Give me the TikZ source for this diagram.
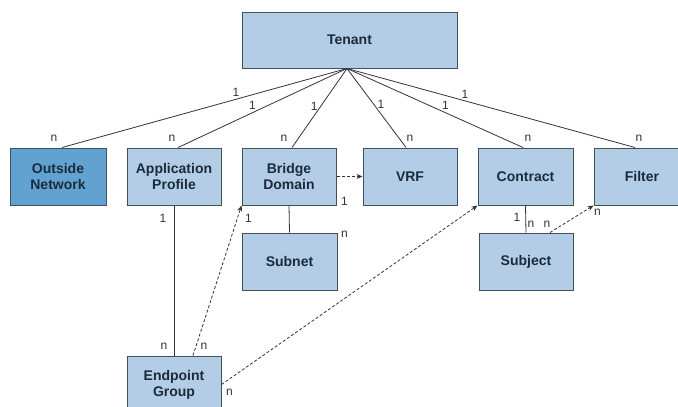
\documentclass[tikz,border=0pt]{standalone}
\usepackage{fontspec}
\setmainfont{Liberation Sans}
\usetikzlibrary{arrows.meta}
\definecolor{boxfill}{HTML}{B2CDE5}
\definecolor{boxdark}{HTML}{62A2D0}
\definecolor{boxline}{HTML}{404F5E}
\definecolor{ink}{HTML}{1C2B3C}
\definecolor{wire}{HTML}{333333}
\begin{document}
\begin{tikzpicture}[x=1pt,y=-1pt,
    obj/.style={draw=boxline,line width=1pt,fill=boxfill,minimum width=94pt,minimum height=57pt,
      inner sep=0pt,align=center,text=ink,font=\fontsize{14}{16}\selectfont\bfseries},
    rel/.style={draw=wire,line width=0.8pt},
    ref/.style={rel,dash pattern=on 3pt off 2pt,-{Stealth[length=6pt,width=5pt]}},
    card/.style={text=wire,inner sep=0pt,font=\fontsize{12}{12}\selectfont}]
  \clip (0,0) rectangle (678,407);
  \def\ry{176.5} \def\ly{261.5}
  \node[obj,minimum width=215pt,minimum height=56pt] (ten) at (349.5,40) {Tenant};
  \node[obj,fill=boxdark,minimum width=96pt] (out) at (58,\ry) {Outside\\Network};
  \node[obj] (app) at (174,\ry) {Application\\Profile};
  \node[obj] (bd) at (289,\ry) {Bridge\\Domain};
  \node[obj] (vrf) at (410,\ry) {VRF};
  \node[obj,minimum width=95pt] (con) at (525.5,\ry) {Contract};
  \node[obj,minimum width=96pt] (fil) at (642,\ry) {Filter};
  \node[obj,minimum width=95pt] (sub) at (289.5,\ly) {Subnet};
  \node[obj] (subj) at (526,\ly) {Subject};
  \node[obj] (epg) at (174,384.5) {Endpoint\\Group};

  \coordinate (hub) at ([xshift=-2.5pt]ten.south);
  \draw[rel] (hub) -- node[card,pos=0.39,above=2pt]{1} ([xshift=4pt]out.north) node[card,shift={(-8,-9)}]{n};
  \draw[rel] (hub) -- node[card,pos=0.56,above=3pt]{1} ([xshift=4pt]app.north) node[card,shift={(-6,-9)}]{n};
  \draw[rel] (hub) -- node[card,pos=0.475,left=3pt]{1} ([xshift=3pt]bd.north) node[card,shift={(-8,-9)}]{n};
  \draw[rel] (hub) -- node[card,pos=0.46,right=3pt]{1} ([xshift=-4pt]vrf.north) node[card,shift={(4,-9)}]{n};
  \draw[rel] (hub) -- node[card,pos=0.56,above=3pt]{1} ([xshift=-2.5pt]con.north) node[card,shift={(5,-9)}]{n};
  \draw[rel] (hub) -- node[card,pos=0.41,above=2pt]{1} ([xshift=-7pt]fil.north) node[card,shift={(4,-9)}]{n};

  \draw[rel] (app.south) -- (epg.north);
  \draw[rel] (bd.south) -- (sub.north);
  \draw[rel] (con.south) -- (subj.north);
  \draw[ref] (bd.east) -- (vrf.west);
  \draw[ref] ([xshift=19pt]epg.north) -- (bd.south west);
  \draw[ref] (epg.east) -- (con.south west);
  \draw[ref] ([xshift=24pt]subj.north) -- (fil.south west);

  \node[card,shift={(-11,13)}] (app1) at (app.south) {1};
  \node[card,shift={(-10,-9)}] (epgn) at (epg.north) {n};
  \node[card,shift={(30,-9)}] (epgbn) at (epg.north) {n};
  \node[card,shift={(7,13)}] (bd1) at (bd.south west) {1};
  \node[card,shift={(8,-4)}] (bdv1) at (bd.south east) {1};
  \node[card,shift={(7,2)}] (subn) at (sub.north east) {n};
  \node[card,shift={(8,7.5)}] (epgcn) at (epg.east) {n};
  \node[card,shift={(-8.5,12)}] (con1) at (con.south) {1};
  \node[card,shift={(5,-8)}] (subjn) at (subj.north) {n};
  \node[card,shift={(21,-8)}] (subjfn) at (subj.north) {n};
  \node[card,shift={(4,7)}] (filn) at (fil.south west) {n};
\end{tikzpicture}
\end{document}
